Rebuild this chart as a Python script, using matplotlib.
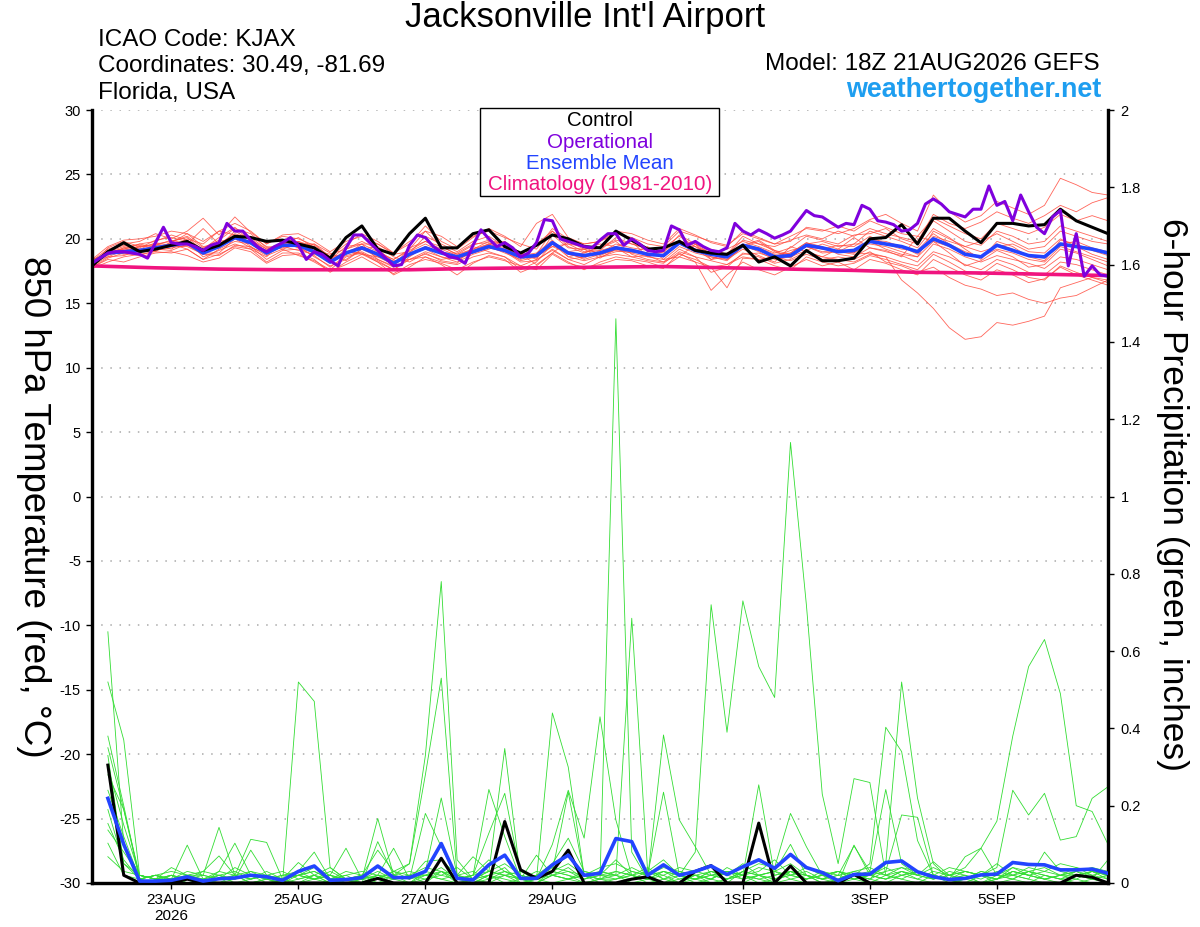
import matplotlib
matplotlib.use("Agg")
import matplotlib.pyplot as plt
from matplotlib.patches import Rectangle
from datetime import datetime

plt.rcParams['font.family'] = ['Liberation Sans', 'DejaVu Sans']
plt.rcParams['axes.unicode_minus'] = False

# ---------------- data ----------------
run_time = datetime(2026, 8, 21, 18)
hours = list(range(0, 385, 6))          # GEFS 6-hourly
precip_hours = list(range(6, 385, 6))
op_hours = list(range(0, 385, 3))        # operational 3-hourly
clim_hours = list(range(0, 385, 24))

tick_dates = [datetime(2026, 8, 23), datetime(2026, 8, 25), datetime(2026, 8, 27),
              datetime(2026, 8, 29), datetime(2026, 9, 1), datetime(2026, 9, 3),
              datetime(2026, 9, 5)]
tick_labels = ["23AUG\n2026", "25AUG", "27AUG", "29AUG", "1SEP", "3SEP", "5SEP"]

control_temp = [17.9, 19.0, 19.7, 19.0, 19.2, 19.5, 19.8, 19.1, 19.5, 20.2, 20.1, 19.8, 19.9,
                19.6, 19.3, 18.5, 20.1, 21.0, 19.2, 18.8, 20.4, 21.6, 19.3, 19.3, 20.4, 20.7,
                19.4, 18.9, 19.5, 20.3, 20.0, 19.4, 19.3, 20.6, 19.9, 19.2, 19.3, 19.8, 19.1,
                18.9, 18.8, 19.5, 18.2, 18.6, 17.9, 19.1, 18.3, 18.3, 18.5, 20.0, 20.1, 21.1,
                19.6, 21.6, 21.6, 20.6, 19.7, 21.2, 21.2, 21.0, 21.1, 22.3, 21.4, 20.9, 20.4]

mean_temp = [18.1, 18.9, 19.0, 19.1, 19.3, 19.5, 19.7, 18.9, 19.4, 20.1, 19.7, 18.9, 19.5,
             19.5, 19.0, 18.2, 18.9, 19.3, 18.8, 18.1, 18.8, 19.3, 18.9, 18.6, 19.0, 19.4,
             19.1, 18.6, 18.7, 19.7, 18.9, 18.7, 18.9, 19.3, 19.1, 18.8, 18.7, 19.7, 19.1,
             18.8, 18.6, 19.5, 19.2, 18.6, 18.7, 19.5, 19.3, 19.0, 19.1, 19.8, 19.6, 19.4,
             19.0, 20.0, 19.5, 18.8, 18.6, 19.5, 19.1, 18.7, 18.6, 19.6, 19.4, 19.2, 18.9]

op_temp = [18.1, 18.5, 18.9, 19.0, 19.0, 18.9, 18.8, 18.5, 19.7, 20.9,
           19.7, 19.6, 19.6, 19.4, 19.1, 19.5, 19.7, 21.2, 20.6, 20.6,
           19.9, 19.3, 19.0, 19.4, 19.7, 20.1, 19.5, 18.4, 19.0, 18.8,
           18.3, 17.9, 19.3, 20.3, 20.3, 19.7, 19.1, 18.5, 17.9, 18.0,
           19.5, 20.3, 20.1, 19.4, 19.0, 18.6, 18.5, 18.1, 19.5, 20.7,
           20.0, 19.4, 19.7, 19.3, 18.6, 18.9, 19.7, 21.5, 21.4, 20.0,
           19.8, 19.6, 19.4, 19.3, 19.9, 20.4, 20.4, 19.5, 20.0, 19.6,
           19.1, 19.0, 19.1, 21.0, 20.7, 19.5, 19.8, 19.4, 19.1, 19.0,
           19.3, 21.2, 20.6, 20.3, 20.7, 20.4, 20.05, 20.3, 20.6, 21.4,
           22.2, 21.8, 21.7, 21.3, 20.9, 21.2, 21.1, 22.6, 22.3, 21.4,
           21.3, 21.1, 20.6, 20.7, 21.2, 22.7, 23.1, 22.7, 22.1, 21.9,
           21.7, 22.3, 22.3, 24.1, 22.6, 22.9, 21.4, 23.4, 22.1, 20.9,
           20.4, 21.7, 22.2, 17.9, 20.4, 17.1, 17.9, 17.2, 17.1]

clim_temp = [17.9, 17.75, 17.65, 17.6, 17.6, 17.6, 17.7, 17.75, 17.8, 17.85, 17.75,
             17.65, 17.55, 17.4, 17.35, 17.25, 17.15]

temp_members = [
    [18.3, 19.2, 19.6, 19.8, 20.4, 20.0, 20.6, 21.6, 20.3, 21.7, 20.5, 19.6, 20.2,
     20.0, 19.5, 18.6, 19.6, 20.4, 19.8, 18.9, 19.6, 21.0, 19.8, 19.2, 20.1, 20.8,
     20.2, 19.4, 21.2, 21.9, 20.1, 19.6, 19.8, 20.6, 20.4, 19.9, 19.6, 20.8, 20.3,
     19.7, 19.4, 20.6, 20.1, 19.6, 19.8, 20.9, 20.7, 20.4, 20.8, 21.5, 21.9, 21.2,
     20.6, 23.4, 22.1, 21.3, 21.8, 22.9, 22.4, 21.9, 22.6, 24.7, 24.2, 23.6, 23.4],
    [17.8, 18.4, 18.2, 18.6, 18.9, 19.0, 18.7, 18.2, 18.5, 19.3, 19.0, 18.1, 18.7,
     18.8, 18.2, 17.5, 18.0, 18.6, 17.9, 17.3, 18.0, 18.4, 18.1, 17.6, 18.2, 18.6,
     18.3, 17.9, 17.6, 18.8, 18.1, 17.8, 18.0, 18.4, 18.3, 17.9, 17.7, 18.9, 18.2,
     17.8, 16.2, 18.5, 18.4, 17.9, 17.6, 18.6, 18.2, 17.9, 18.1, 18.7, 18.4, 18.0,
     17.6, 18.8, 18.2, 17.5, 17.2, 18.1, 17.6, 17.0, 16.8, 17.9, 17.4, 17.0, 16.6],
    [18.0, 19.0, 19.4, 19.2, 19.0, 19.8, 20.2, 19.3, 19.9, 20.8, 20.4, 19.3, 19.6,
     19.8, 19.2, 18.4, 19.4, 19.6, 18.4, 17.9, 19.3, 19.8, 19.4, 18.8, 19.5, 19.9,
     19.6, 18.9, 18.4, 20.3, 19.3, 19.2, 19.6, 19.4, 19.8, 18.6, 19.0, 20.3, 19.6,
     19.1, 18.8, 19.9, 19.6, 19.1, 18.5, 19.6, 19.8, 19.4, 19.6, 20.6, 20.2, 19.8,
     19.3, 20.8, 20.1, 19.2, 18.4, 19.8, 19.4, 18.6, 18.3, 19.9, 19.6, 19.1, 18.7],
    [18.2, 18.7, 19.3, 19.6, 19.8, 20.3, 19.9, 18.6, 19.1, 19.6, 19.2, 18.6, 19.9,
     19.3, 18.7, 17.8, 18.7, 19.0, 18.4, 17.8, 18.4, 19.0, 18.6, 18.2, 18.8, 19.2,
     19.6, 18.8, 18.0, 18.9, 19.8, 19.2, 18.5, 19.2, 18.9, 19.4, 18.4, 18.6, 19.6,
     18.8, 18.4, 19.2, 18.7, 18.2, 19.4, 19.0, 18.6, 19.2, 20.1, 19.3, 19.1, 18.6,
     20.2, 19.8, 18.9, 17.9, 18.3, 19.1, 18.6, 17.8, 18.0, 19.2, 18.9, 18.4, 17.9],
    [17.9, 18.6, 19.1, 19.4, 19.5, 19.2, 20.0, 19.6, 20.6, 20.3, 19.4, 18.4, 19.1,
     19.2, 19.6, 18.9, 18.3, 19.2, 19.4, 18.6, 18.2, 18.9, 18.3, 18.1, 19.4, 19.0,
     18.6, 17.6, 18.2, 19.6, 18.6, 18.9, 19.3, 19.8, 18.8, 18.4, 18.2, 19.2, 18.6,
     18.3, 18.0, 18.8, 18.9, 18.5, 18.9, 19.7, 19.4, 18.8, 18.6, 19.3, 19.0, 18.7,
     18.2, 19.6, 19.2, 18.6, 18.2, 18.7, 18.4, 18.1, 17.7, 18.6, 18.4, 18.0, 17.6],
    [18.1, 19.1, 18.8, 18.9, 19.6, 19.4, 19.4, 18.8, 19.8, 20.0, 20.1, 19.2, 19.3,
     19.8, 19.4, 18.3, 19.0, 18.9, 18.2, 17.6, 18.6, 19.4, 18.9, 18.9, 19.6, 19.7,
     19.3, 18.7, 18.9, 19.9, 18.6, 18.3, 18.6, 19.0, 19.1, 18.8, 18.6, 19.8, 19.6,
     18.4, 18.9, 19.5, 19.9, 19.1, 18.8, 19.4, 18.9, 19.0, 18.8, 18.9, 18.6, 16.8,
     15.8, 14.6, 13.1, 12.2, 12.4, 13.5, 13.3, 13.6, 14.0, 16.2, 16.6, 17.0, 16.8],
    [18.4, 18.8, 18.9, 19.5, 19.2, 19.1, 19.6, 18.9, 18.9, 20.0, 19.3, 18.9, 19.8,
     19.4, 18.6, 17.9, 18.4, 19.2, 18.6, 18.3, 18.4, 18.8, 18.4, 18.6, 18.9, 19.3,
     19.0, 18.2, 18.3, 19.2, 18.4, 18.6, 19.0, 19.3, 18.6, 18.7, 18.2, 18.8, 18.4,
     17.8, 18.0, 18.6, 18.4, 18.6, 18.3, 18.8, 18.4, 18.6, 18.4, 19.0, 18.2, 17.9,
     17.4, 17.8, 17.0, 16.4, 16.1, 15.6, 15.8, 15.3, 15.0, 15.4, 15.6, 16.2, 16.8],
    [18.0, 18.9, 19.3, 19.0, 19.5, 19.9, 19.6, 20.8, 19.6, 20.4, 20.0, 19.0, 19.8,
     19.6, 19.0, 18.2, 19.2, 19.6, 19.0, 18.4, 19.2, 20.6, 19.4, 18.8, 19.2, 19.8,
     19.5, 18.6, 18.8, 20.6, 19.6, 19.0, 19.1, 20.1, 19.6, 19.3, 19.0, 19.9, 19.2,
     19.2, 18.8, 20.2, 19.6, 19.4, 19.9, 20.3, 20.0, 20.6, 20.2, 20.8, 20.4, 20.1,
     19.8, 21.9, 21.2, 20.8, 21.3, 22.1, 21.6, 21.2, 21.8, 22.6, 22.1, 22.8, 23.2],
    [17.9, 19.3, 19.8, 19.4, 19.6, 19.8, 20.1, 19.1, 19.4, 20.6, 19.9, 19.2, 19.6,
     20.1, 19.3, 18.4, 18.9, 19.4, 18.9, 18.4, 19.1, 19.8, 19.2, 18.7, 19.2, 19.6,
     19.2, 18.8, 18.5, 19.8, 19.0, 19.2, 18.9, 19.6, 19.3, 19.1, 18.9, 19.6, 19.0,
     19.0, 18.6, 19.6, 19.3, 18.8, 18.9, 19.7, 19.2, 19.5, 19.4, 20.2, 19.6, 19.2,
     19.1, 20.4, 19.6, 19.0, 18.6, 19.6, 19.2, 18.7, 18.5, 19.6, 19.8, 19.3, 19.0],
    [18.2, 18.6, 18.7, 19.1, 19.4, 19.6, 19.2, 18.4, 19.2, 19.8, 19.6, 18.8, 19.4,
     19.1, 18.8, 18.4, 19.0, 18.8, 18.6, 18.0, 18.8, 19.2, 18.6, 18.4, 19.0, 19.4,
     18.9, 18.4, 18.8, 19.4, 18.9, 18.4, 18.8, 19.1, 18.9, 18.6, 18.4, 19.4, 18.9,
     18.6, 18.3, 19.4, 19.1, 18.6, 19.1, 19.4, 19.0, 19.1, 18.9, 19.8, 19.2, 18.8,
     18.6, 19.8, 19.4, 18.8, 18.6, 19.2, 18.9, 18.4, 18.2, 19.4, 19.0, 18.6, 18.2],
    [18.4, 19.4, 19.9, 20.0, 20.2, 20.6, 20.4, 19.8, 20.6, 21.2, 20.6, 19.6, 20.3,
     20.4, 19.8, 19.0, 19.8, 20.2, 19.6, 18.9, 19.8, 20.6, 20.2, 19.4, 20.2, 20.6,
     20.1, 19.6, 19.2, 20.8, 20.0, 19.6, 19.8, 20.4, 20.1, 19.6, 19.4, 20.6, 20.2,
     19.8, 19.5, 20.4, 20.0, 19.6, 20.2, 20.8, 20.6, 21.0, 20.6, 21.4, 20.9, 20.4,
     20.2, 21.6, 21.0, 20.4, 20.0, 21.2, 20.8, 20.4, 20.9, 21.9, 21.4, 21.8, 21.4],
    [17.7, 18.2, 18.6, 18.8, 19.0, 18.9, 19.2, 18.4, 18.8, 19.4, 19.2, 18.2, 18.9,
     18.9, 18.4, 17.4, 18.2, 18.8, 18.2, 17.2, 17.8, 18.6, 18.0, 17.2, 18.1, 18.7,
     18.4, 17.4, 17.9, 18.9, 18.2, 17.6, 18.2, 18.6, 18.4, 18.2, 17.8, 18.6, 18.2,
     16.0, 17.2, 18.2, 17.6, 17.2, 17.8, 18.4, 17.9, 18.2, 17.6, 18.4, 18.1, 17.6,
     17.2, 18.4, 17.8, 17.2, 16.8, 17.6, 17.2, 16.6, 16.9, 17.8, 17.2, 16.8, 16.4],
    [18.0, 19.1, 19.5, 19.3, 19.9, 20.1, 19.8, 19.2, 20.1, 20.9, 19.8, 18.9, 19.4,
     19.6, 19.1, 18.8, 19.2, 19.8, 19.2, 18.2, 18.9, 20.2, 19.6, 19.0, 19.8, 20.2,
     19.4, 18.5, 19.6, 20.6, 19.4, 18.9, 19.4, 19.9, 19.6, 19.2, 19.3, 20.2, 19.4,
     18.9, 19.2, 19.8, 19.4, 18.9, 19.3, 20.2, 19.9, 19.6, 20.3, 20.4, 20.8, 20.0,
     19.6, 21.4, 20.6, 19.8, 19.5, 20.6, 20.2, 19.6, 19.8, 21.0, 20.6, 20.2, 19.8],
    [17.8, 18.5, 18.9, 18.7, 19.1, 19.3, 19.5, 18.8, 18.7, 19.5, 19.4, 18.7, 19.2,
     18.7, 18.3, 17.6, 18.6, 18.9, 18.3, 17.6, 18.4, 18.6, 18.2, 18.0, 18.6, 18.9,
     18.6, 17.9, 18.4, 19.1, 18.4, 18.0, 18.6, 18.8, 18.6, 18.3, 18.1, 19.0, 18.6,
     17.4, 17.8, 18.9, 18.6, 18.1, 18.4, 19.0, 18.6, 18.4, 18.2, 18.8, 18.6, 18.2,
     17.9, 19.0, 18.6, 18.0, 17.6, 18.4, 18.0, 17.4, 17.2, 18.2, 18.0, 17.6, 17.2],
    [18.3, 19.0, 19.2, 19.6, 19.3, 19.7, 20.4, 19.4, 19.6, 20.2, 20.2, 19.4, 19.2,
     19.6, 19.6, 18.6, 18.8, 19.6, 19.6, 18.8, 19.0, 19.6, 19.0, 18.4, 18.9, 19.6,
     19.8, 18.9, 18.6, 19.4, 19.6, 19.4, 18.7, 19.2, 19.2, 18.9, 18.6, 19.6, 19.4,
     18.6, 18.4, 19.4, 19.8, 19.0, 18.6, 19.1, 19.6, 19.2, 18.9, 19.9, 19.8, 19.4,
     18.8, 20.2, 19.8, 19.4, 19.0, 19.4, 19.6, 19.0, 18.9, 20.0, 19.4, 18.8, 18.4],
    [18.1, 18.8, 19.2, 19.2, 19.7, 19.5, 19.9, 19.0, 19.3, 20.3, 19.7, 19.1, 19.7,
     19.3, 18.9, 18.1, 19.0, 19.4, 18.7, 18.0, 18.7, 19.4, 18.9, 18.5, 19.1, 19.6,
     19.1, 18.3, 18.6, 19.6, 18.8, 18.5, 19.1, 19.4, 19.0, 18.9, 18.6, 19.8, 19.2,
     18.4, 18.6, 19.5, 19.0, 18.4, 18.6, 19.4, 19.2, 19.0, 19.6, 19.6, 19.4, 19.0,
     18.6, 20.6, 20.0, 19.4, 19.8, 20.4, 19.8, 19.2, 19.4, 20.6, 20.2, 19.8, 19.6],
]

control_precip = [0.305, 0.02, 0, 0, 0, 0.01, 0, 0, 0, 0, 0, 0, 0, 0, 0, 0,
                  0, 0.012, 0, 0, 0, 0.064, 0, 0, 0, 0.159, 0.034, 0.012, 0.03, 0.085, 0, 0,
                  0, 0.01, 0.016, 0, 0, 0.03, 0.045, 0, 0, 0.155, 0, 0.044, 0, 0, 0, 0.022,
                  0, 0, 0, 0, 0, 0, 0, 0, 0, 0, 0, 0, 0, 0.02, 0.015, 0]

mean_precip = [0.219, 0.10, 0.005, 0.005, 0.007, 0.016, 0.005, 0.011, 0.013, 0.02, 0.016, 0.007,
               0.03, 0.044, 0.007, 0.009, 0.014, 0.044, 0.014, 0.014, 0.03, 0.102, 0.012, 0.008,
               0.047, 0.072, 0.012, 0.012, 0.047, 0.072, 0.02, 0.025, 0.115, 0.107, 0.02, 0.047,
               0.02, 0.03, 0.044, 0.022, 0.042, 0.06, 0.038, 0.074, 0.04, 0.027, 0.006, 0.022,
               0.023, 0.053, 0.057, 0.029, 0.016, 0.009, 0.012, 0.021, 0.023, 0.053, 0.048, 0.047,
               0.034, 0.034, 0.036, 0.025]

precip_members = [
    [.65, .10, .01, 0, .01, 0, 0, .02, 0, 0, .01, 0, .02, .01, 0, 0,
     0, .02, 0, 0, .01, .03, 0, 0, .02, .01, 0, 0, .03, .02, 0, .01,
     1.46, .08, .01, 0, .02, .01, 0, 0, .03, .02, 0, .01, 0, 0, 0, .01,
     0, .02, .03, .01, 0, 0, .01, 0, .02, .02, .01, 0, 0, .01, 0, 0],
    [.52, .37, .02, .01, 0, .02, 0, .01, .02, 0, 0, .01, 0, .02, 0, .01,
     0, .01, .03, .05, .33, .78, .06, .01, 0, .02, 0, .01, 0, .01, .02, 0,
     .01, .02, 0, .01, .02, 0, .01, 0, 0, .02, .03, .01, .02, 0, 0, .02,
     .01, .05, .52, .22, .05, .01, .02, 0, .01, .03, .02, .01, 0, .02, .01, 0],
    [.38, .20, .01, 0, .02, .01, 0, 0, .01, .02, 0, 0, .52, .47, .04, .01,
     0, .02, .01, 0, .02, .01, 0, .01, .02, 0, .01, 0, .02, .01, 0, .01,
     .02, 0, .01, .03, .02, .08, .72, .39, .73, .56, .48, 1.14, .72, .23, .05, .27,
     .26, .02, .01, 0, .02, 0, .01, .02, 0, .01, 0, .02, .01, 0, .01, .02],
    [.35, .19, .02, .01, .01, 0, .01, 0, 0, .01, .02, 0, 0, .01, .02, 0,
     .01, 0, .02, .05, .28, .53, .02, 0, .01, .03, .02, .01, .44, .30, .02, .01,
     0, .01, .02, 0, .01, .02, 0, .01, .02, .01, 0, .03, .02, 0, .01, .02,
     .01, 0, .02, .01, .03, .02, .04, .09, .16, .38, .56, .63, .49, .20, .185, .10],
    [.33, .05, .01, .02, 0, .01, .02, .144, .02, 0, .01, 0, .01, .02, 0, .01,
     .02, 0, .01, .02, 0, .03, .01, .02, .242, .12, .01, 0, .02, .01, .02, .03,
     .02, .685, .03, .01, 0, .02, .01, .03, .02, 0, .01, .02, .03, .01, 0, .02,
     .05, .403, .34, .11, .02, .01, 0, .02, .01, .03, .02, .01, .02, .04, .03, .02],
    [.28, .19, .01, .02, .01, .098, .01, 0, .02, .113, .105, .01, .02, .03, .01, 0,
     .01, .167, .02, 0, .03, .22, .02, .01, .03, .348, .01, .02, .03, .05, .02, .01,
     .03, .02, .01, .383, .163, .094, .02, .01, .03, .05, .04, .18, .094, .02, .01, .03,
     .02, .01, .03, .02, .01, .02, .03, .02, .04, .24, .176, .232, .111, .12, .219, .249],
    [.22, .10, .02, .01, .02, .01, 0, .03, .103, .02, .01, 0, .03, .08, .01, .02,
     0, .107, .02, .01, .18, .094, .01, 0, .02, .04, 0, .01, .10, .24, .116, .43,
     .163, .02, .01, .02, 0, .01, .02, .03, .02, .254, .02, .03, .01, .02, 0, .098,
     .02, .03, .176, .17, .02, .01, .02, 0, .01, .03, .02, .01, .02, .03, .01, .02],
    [.19, .05, .02, .01, .02, 0, .01, .02, .01, .085, .02, .01, .02, .01, .02, .09,
     .01, .02, .09, .01, .02, .03, .01, .02, .129, .232, .02, .01, .03, .235, .02, .01,
     .01, .03, .02, .235, .02, .01, .03, .02, .01, .02, .03, .02, .01, .02, .03, .01,
     .02, .01, .02, .03, .02, .01, .068, .09, .02, .01, .03, .02, .01, .02, .03, .02],
    [.154, .06, .01, .02, .01, .02, .03, .07, .02, .01, .02, .01, .053, .02, .04, .01,
     .02, .085, .03, .01, .056, .06, .02, .068, .03, .02, .01, .072, .02, .03, .01, .02,
     .06, .02, .01, .03, .02, .01, .02, .03, .01, .02, .03, .10, .02, .01, .02, .096,
     .03, .242, .05, .02, .055, .02, .01, .03, .02, .01, .03, .02, .01, .03, .02, .01],
    [.137, .08, .02, .01, .04, .02, .01, .03, .02, .01, .03, .01, .02, .03, .01, .02,
     .03, .02, .01, .02, .02, .04, .01, .02, .06, .03, .01, .02, .05, .116, .03, .02,
     .01, .02, .03, .06, .02, .01, .03, .02, .05, .02, .01, .03, .02, .01, .02, .03,
     .04, .02, .01, .03, .02, .01, .03, .02, .05, .02, .01, .08, .03, .02, .01, .06],
    [.103, .02, .01, .02, .01, .03, .02, .01, .04, .02, .01, .02, .03, .01, .02, .01,
     .02, .04, .02, .01, .03, .02, .01, .02, .03, .05, .02, .01, .04, .03, .02, .04,
     .05, .03, .02, .04, .03, .02, .01, .03, .02, .04, .03, .05, .02, .01, .03, .02,
     .01, .03, .04, .02, .01, .03, .02, .01, .03, .02, .04, .03, .05, .04, .02, .03],
    [.068, .03, .02, .01, .02, .01, .03, .02, .01, .03, .02, .01, .02, .04, .02, .01,
     .01, .03, .01, .02, .04, .03, .02, .01, .02, .03, .01, .02, .03, .02, .01, .03,
     .02, .01, .03, .02, .04, .03, .02, .01, .03, .02, .01, .02, .04, .02, .03, .01,
     .02, .04, .02, .03, .01, .02, .03, .02, .01, .04, .02, .03, .02, .01, .03, .02],
    [.24, .12, .01, .02, .03, .02, .01, .02, .03, .01, .02, .03, .01, .02, .01, .03,
     .02, .01, .03, .02, .01, .02, .04, .01, .03, .02, .01, .03, .02, .01, .03, .02,
     .02, .04, .02, .03, .01, .02, .03, .01, .02, .03, .06, .02, .01, .02, .03, .02,
     .03, .02, .04, .03, .02, .04, .03, .02, .01, .02, .03, .04, .02, .03, .04, .03],
    [.30, .15, .02, .01, .01, .02, .02, .01, .02, .03, .01, .02, .02, .01, .03, .01,
     .01, .02, .02, .03, .02, .01, .02, .03, .01, .02, .03, .01, .02, .04, .01, .02,
     .03, .02, .04, .01, .03, .02, .01, .04, .02, .01, .02, .03, .01, .03, .02, .01,
     .02, .01, .03, .02, .04, .02, .01, .03, .02, .04, .03, .01, .02, .02, .03, .01],
]

# ---------------- colours ----------------
c_member_t = '#ff4a3d'
c_member_p = '#33dd33'
c_control = 'black'
c_oper = '#7f00dd'
c_mean = '#2244ff'
c_clim = '#f0147f'


def xy(x, y):
    n = min(len(x), len(y))
    return x[:n], y[:n]


W, H = 1200, 927
fig = plt.figure(figsize=(W / 100, H / 100), dpi=100)
ax = fig.add_axes([92 / W, 1 - 883 / H, (1108 - 92) / W, (883 - 110) / H])
ax2 = ax.twinx()

# temperature
for m in temp_members:
    ax.plot(*xy(hours, m), color=c_member_t, lw=0.6, alpha=0.85, zorder=1)
ax.plot(*xy(clim_hours, clim_temp), color=c_clim, lw=2.6, zorder=3)
ax.plot(*xy(hours, mean_temp), color=c_mean, lw=2.6, zorder=4)
ax.plot(*xy(hours, control_temp), color=c_control, lw=2.2, zorder=5)
ax.plot(*xy(op_hours, op_temp), color=c_oper, lw=2.2, zorder=6)

# precipitation
for m in precip_members:
    ax2.plot(*xy(precip_hours, m), color=c_member_p, lw=0.6, zorder=1)
ax2.plot(*xy(precip_hours, control_precip), color=c_control, lw=2.2, zorder=4)
ax2.plot(*xy(precip_hours, mean_precip), color=c_mean, lw=2.6, zorder=5)

ax.set_xlim(0, 384)
ax.set_ylim(-30, 30)
ax2.set_ylim(0, 2)
ax.set_yticks(list(range(-30, 31, 5)))
ax2.set_yticks([0, 0.2, 0.4, 0.6, 0.8, 1.0, 1.2, 1.4, 1.6, 1.8, 2.0])
ax2.set_yticklabels(['0', '0.2', '0.4', '0.6', '0.8', '1', '1.2', '1.4', '1.6', '1.8', '2'])

tick_pos = [(d - run_time).total_seconds() / 3600 for d in tick_dates]
ax.set_xticks(tick_pos)
ax.set_xticklabels(tick_labels)

for y in range(-25, 31, 5):
    ax.axhline(y, color='#aaaaaa', lw=1.1, ls=(0, (1, 5)), zorder=0)

for a in (ax, ax2):
    a.spines['top'].set_visible(False)
    for s in ('left', 'right', 'bottom'):
        a.spines[s].set_linewidth(2.3)
    a.tick_params(labelsize=10.5, length=4, width=1, direction='out', colors='black')
ax.tick_params(axis='x', labelsize=11, pad=3)
ax.tick_params(axis='y', pad=4)
ax2.tick_params(axis='y', pad=5)

# texts
fig.text(0.4875, 1 - 18 / H, "Jacksonville Int'l Airport", ha='center', va='center', fontsize=25)
fig.text(98 / W, 1 - 40 / H, "ICAO Code: KJAX", ha='left', va='center', fontsize=17.5)
fig.text(98 / W, 1 - 66 / H, "Coordinates: 30.49, -81.69", ha='left', va='center', fontsize=17.5)
fig.text(98 / W, 1 - 93 / H, "Florida, USA", ha='left', va='center', fontsize=17.5)
fig.text(1100 / W, 1 - 64 / H, "Model: 18Z 21AUG2026 GEFS", ha='right', va='center', fontsize=17.5)
fig.text(1101 / W, 1 - 90 / H, "weathertogether.net", ha='right', va='center', fontsize=19.4,
         fontweight='bold', color='#1e9ef0')
fig.text(33 / W, 1 - 507 / H, "850 hPa Temperature (red, \u00b0C)", rotation=270,
         ha='center', va='center', fontsize=26.5)
fig.text(1172 / W, 1 - 495 / H, "6-hour Precipitation (green, inches)", rotation=270,
         ha='center', va='center', fontsize=25.5)

# legend box
fig.add_artist(Rectangle((480 / W, 1 - 196 / H), 239 / W, 88 / H, transform=fig.transFigure,
                         facecolor='white', edgecolor='black', lw=1, zorder=10))
leg_items = [("Control", c_control), ("Operational", c_oper), ("Ensemble Mean", c_mean),
             ("Climatology (1981-2010)", c_clim)]
for k, (txt, col) in enumerate(leg_items):
    fig.text(600 / W, 1 - (121 + 21.3 * k) / H, txt, ha='center', va='center', fontsize=14.8,
             color=col, zorder=11)

fig.savefig("out.png", dpi=100)
